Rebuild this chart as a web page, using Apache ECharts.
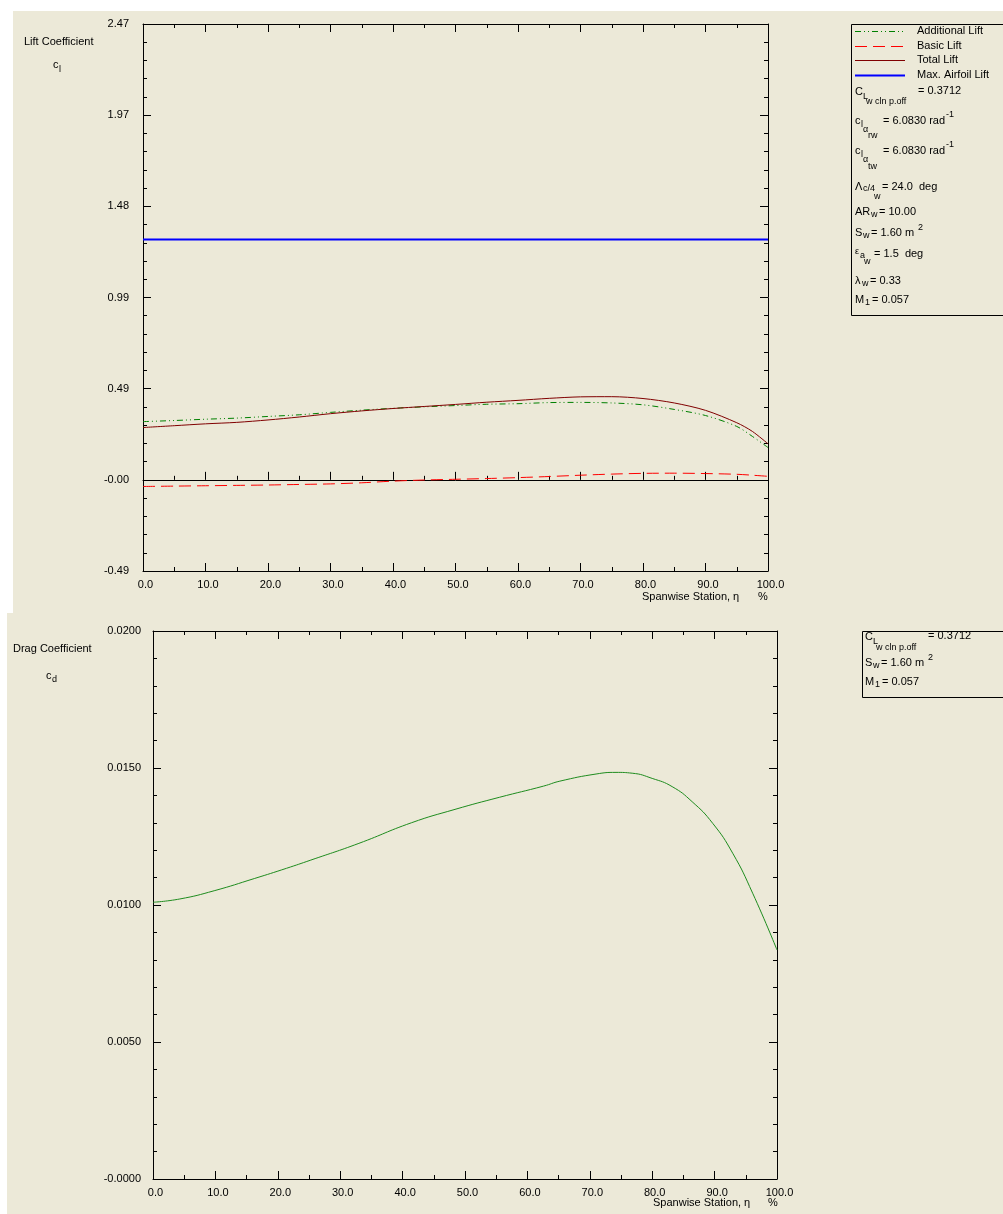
<!DOCTYPE html>
<html>
<head>
<meta charset="utf-8">
<title>Spanwise Lift and Drag Distribution</title>
<script src="https://cdn.jsdelivr.net/npm/echarts@6/dist/echarts.min.js"></script>
<style>
  html, body { margin: 0; padding: 0; background: #ffffff; }
  #chart { width: 1003px; height: 1214px; }
</style>
</head>
<body>
<div id="chart"></div>
<script>
// Spanwise stations (% semispan) for the lift distributions
const etaLift = [0, 5, 10, 15, 20, 25, 30, 35, 40, 45, 50, 55, 60, 65, 70, 75, 80, 85, 90, 95, 97.5, 100];
const additionalLift = [0.315, 0.321, 0.328, 0.334, 0.343, 0.352, 0.365, 0.377, 0.387, 0.395, 0.402, 0.409, 0.412, 0.418, 0.419, 0.416, 0.406, 0.381, 0.348, 0.289, 0.235, 0.175];
const basicLift = [-0.036, -0.034, -0.032, -0.030, -0.028, -0.025, -0.022, -0.016, -0.007, -0.001, 0.003, 0.007, 0.012, 0.018, 0.025, 0.031, 0.035, 0.036, 0.034, 0.030, 0.025, 0.019];
const totalLift = [0.283, 0.293, 0.303, 0.311, 0.324, 0.340, 0.358, 0.373, 0.386, 0.397, 0.408, 0.420, 0.430, 0.441, 0.449, 0.450, 0.440, 0.416, 0.376, 0.309, 0.262, 0.195];
const maxAirfoilLift = 1.30;

// Spanwise stations and section drag coefficient
const etaDrag = [0, 4.3, 9.8, 16.3, 21.4, 25.3, 33, 41.4, 48.4, 55.5, 62.6, 65.2, 71, 74.2, 76.8, 80, 83.2, 86.4, 89.7, 92.9, 96.1, 100];
const dragCoef = [0.01010, 0.01022, 0.01052, 0.01097, 0.01134, 0.01164, 0.01225, 0.01300, 0.01349, 0.01393, 0.01434, 0.01452, 0.01478, 0.01484, 0.01481, 0.01462, 0.01432, 0.01377, 0.01298, 0.01189, 0.01043, 0.00836];

// Axis tick labels
const etaTickLabels = ['0.0', '10.0', '20.0', '30.0', '40.0', '50.0', '60.0', '70.0', '80.0', '90.0', '100.0'];
const liftTickLabels = ['-0.49', '-0.00', '0.49', '0.99', '1.48', '1.97', '2.47'];
const dragTickLabels = ['-0.0000', '0.0050', '0.0100', '0.0150', '0.0200'];

const liftStep = 0.74 / 1.5;      // one lift-axis division
const dragStep = 0.005;

const FONT = '"Liberation Sans", Arial, sans-serif';
const BG = '#ECE9D8';

function pairs(xs, ys) { return xs.map((x, i) => [x, ys[i]]); }

function txt(x, y, s, size, align) {
  const a = align || 'left';
  return {
    type: 'text', z: 20, silent: true,
    style: {
      x: x, y: y, text: s, fill: '#000',
      font: (size || 11) + 'px ' + FONT,
      textAlign: a, align: a, textVerticalAlign: 'middle', verticalAlign: 'middle'
    }
  };
}
function rect(x, y, w, h, fill, stroke, z) {
  return { type: 'rect', z: z, silent: true, shape: { x: x, y: y, width: w, height: h },
           style: { fill: fill, stroke: stroke || null, lineWidth: stroke ? 1 : 0 } };
}
function seg(x1, y1, x2, y2, color, width, dash) {
  return { type: 'line', z: 20, silent: true, shape: { x1: x1, y1: y1, x2: x2, y2: y2 },
           style: { stroke: color, lineWidth: width, lineDash: dash || null } };
}

const axisLine = { lineStyle: { color: '#000', width: 1 } };
const labelStyle = { color: '#000', fontFamily: FONT, fontSize: 11 };

function etaAxis(gridIndex, position, showLabel, onZero) {
  return {
    type: 'value', gridIndex: gridIndex, position: position,
    min: 0, max: 100, interval: 10,
    axisLine: Object.assign({ show: true, onZero: !!onZero }, onZero ? { onZeroAxisIndex: gridIndex === 0 ? 0 : 2 } : {}, axisLine),
    axisTick: { show: true, inside: true, length: 8, lineStyle: { color: '#000' } },
    minorTick: { show: true, splitNumber: 2, length: 4, lineStyle: { color: '#000' } },
    splitLine: { show: false },
    axisLabel: Object.assign({ show: showLabel, margin: 8, padding: [0, 0, 0, 5],
      formatter: v => etaTickLabels[Math.round(v / 10)] }, labelStyle)
  };
}
function valueAxis(gridIndex, position, showLabel, min, max, step, labels, margin) {
  return {
    type: 'value', gridIndex: gridIndex, position: position,
    min: min, max: max, interval: step,
    axisLine: Object.assign({ show: true, onZero: false }, axisLine),
    axisTick: { show: true, inside: true, length: 8, lineStyle: { color: '#000' } },
    minorTick: { show: true, splitNumber: 5, length: 4, lineStyle: { color: '#000' } },
    splitLine: { show: false },
    axisLabel: Object.assign({ show: showLabel, margin: margin, padding: [2, 0, 0, 0],
      formatter: v => labels[Math.round((v - min) / step)] }, labelStyle)
  };
}

const graphics = [
  // panel backgrounds
  rect(13, 11, 990, 602, BG, null, -10),
  rect(7, 613, 996, 601, BG, null, -10),

  // lift panel titles
  txt(24, 42, 'Lift Coefficient', 11),
  txt(53, 65, 'c', 11), txt(59, 70, 'l', 9),
  txt(642, 597, 'Spanwise Station, η', 11), txt(758, 597, '%', 11),

  // drag panel titles
  txt(13, 649, 'Drag Coefficient', 11),
  txt(46, 676, 'c', 11), txt(52, 680, 'd', 9),
  txt(653, 1203, 'Spanwise Station, η', 11), txt(768, 1203, '%', 11),

  // lift legend box
  rect(851.5, 24.5, 160, 291, BG, '#000', 10),
  seg(855, 31.5, 905, 31.5, '#008000', 1, [6, 3, 1, 3, 1, 3]), txt(917, 31, 'Additional Lift', 11),
  seg(855, 46.5, 905, 46.5, '#FF0000', 1, [12, 6]), txt(917, 46, 'Basic Lift', 11),
  seg(855, 60.5, 905, 60.5, '#800000', 1), txt(917, 60, 'Total Lift', 11),
  seg(855, 75.5, 905, 75.5, '#0000FF', 2), txt(917, 75, 'Max. Airfoil Lift', 11),

  txt(855, 92, 'C', 11), txt(863, 97, 'L', 9), txt(866, 102, 'w cln p.off', 9), txt(918, 91, '= 0.3712', 11),

  txt(855, 121, 'c', 11), txt(861, 125, 'l', 9), txt(863, 130, 'α', 9), txt(868, 136, 'rw', 9),
  txt(883, 121, '= 6.0830 rad', 11), txt(946, 115, '-1', 9),

  txt(855, 151, 'c', 11), txt(861, 155, 'l', 9), txt(863, 160, 'α', 9), txt(868, 167, 'tw', 9),
  txt(883, 151, '= 6.0830 rad', 11), txt(946, 145, '-1', 9),

  txt(855, 187, 'Λ', 11), txt(863, 189, 'c/4', 9), txt(874, 197, 'w', 9), txt(882, 187, '= 24.0  deg', 11),

  txt(855, 212, 'AR', 11), txt(871, 215, 'w', 9), txt(879, 212, '= 10.00', 11),

  txt(855, 233, 'S', 11), txt(863, 236, 'w', 9), txt(871, 233, '= 1.60 m', 11), txt(918, 228, '2', 9),

  txt(855, 252, 'ε', 9), txt(860, 256, 'a', 9), txt(864, 262, 'w', 9), txt(874, 254, '= 1.5  deg', 11),

  txt(855, 281, 'λ', 11), txt(862, 284, 'w', 9), txt(870, 281, '= 0.33', 11),

  txt(855, 300, 'M', 11), txt(865, 303, '1', 9), txt(872, 300, '= 0.057', 11),

  // drag legend box
  rect(862.5, 631.5, 150, 66, BG, '#000', 10),
  txt(865, 637, 'C', 11), txt(873, 642, 'L', 9), txt(876, 648, 'w cln p.off', 9), txt(928, 636, '= 0.3712', 11),
  txt(865, 663, 'S', 11), txt(873, 666, 'w', 9), txt(881, 663, '= 1.60 m', 11), txt(928, 658, '2', 9),
  txt(865, 682, 'M', 11), txt(875, 685, '1', 9), txt(882, 682, '= 0.057', 11)
];

const chart = echarts.init(document.getElementById('chart'), null, { renderer: 'canvas' });
chart.setOption({
  backgroundColor: 'transparent',
  animation: false,
  grid: [
    { left: 143, top: 24, width: 625, height: 547, outerBoundsMode: 'none', containLabel: false },
    { left: 153, top: 631, width: 624, height: 548, outerBoundsMode: 'none', containLabel: false }
  ],
  xAxis: [
    etaAxis(0, 'bottom', true, false),
    etaAxis(0, 'top', false, false),
    etaAxis(0, 'bottom', false, true),
    etaAxis(1, 'bottom', true, false),
    etaAxis(1, 'top', false, false)
  ],
  yAxis: [
    valueAxis(0, 'left', true, -liftStep, 5 * liftStep, liftStep, liftTickLabels, 14),
    valueAxis(0, 'right', false, -liftStep, 5 * liftStep, liftStep, liftTickLabels, 14),
    valueAxis(1, 'left', true, 0, 0.02, dragStep, dragTickLabels, 12),
    valueAxis(1, 'right', false, 0, 0.02, dragStep, dragTickLabels, 12)
  ],
  series: [
    { name: 'Max. Airfoil Lift', type: 'line', xAxisIndex: 0, yAxisIndex: 0, showSymbol: false,
      data: [[0, maxAirfoilLift], [100, maxAirfoilLift]],
      lineStyle: { color: '#0000FF', width: 2 } },
    { name: 'Additional Lift', type: 'line', xAxisIndex: 0, yAxisIndex: 0, showSymbol: false, smooth: 0.3,
      data: pairs(etaLift, additionalLift),
      lineStyle: { color: '#008000', width: 1, type: [6, 3, 1, 3, 1, 3] } },
    { name: 'Basic Lift', type: 'line', xAxisIndex: 0, yAxisIndex: 0, showSymbol: false, smooth: 0.3,
      data: pairs(etaLift, basicLift),
      lineStyle: { color: '#FF0000', width: 1, type: [12, 6] } },
    { name: 'Total Lift', type: 'line', xAxisIndex: 0, yAxisIndex: 0, showSymbol: false, smooth: 0.3,
      data: pairs(etaLift, totalLift),
      lineStyle: { color: '#800000', width: 1 } },
    { name: 'Drag', type: 'line', xAxisIndex: 3, yAxisIndex: 2, showSymbol: false, smooth: 0.5,
      data: pairs(etaDrag, dragCoef),
      lineStyle: { color: '#1E8C1E', width: 1 } }
  ],
  graphic: graphics
});
</script>
</body>
</html>
